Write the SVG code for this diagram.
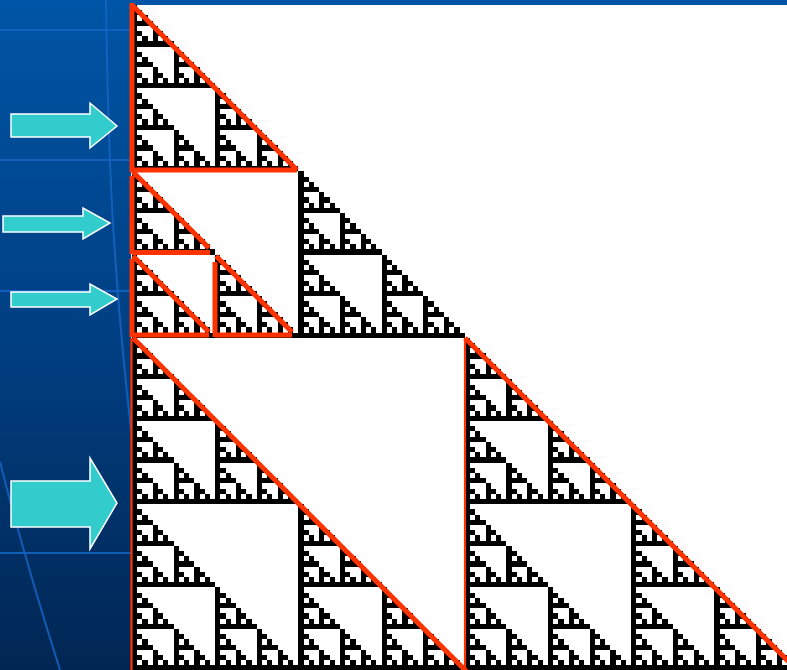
<svg xmlns="http://www.w3.org/2000/svg" xmlns:xlink="http://www.w3.org/1999/xlink" width="787" height="670" viewBox="0 0 787 670">
<style>
.grid{fill:none;stroke:#1465c4;stroke-width:2;opacity:0.85}
.arrow{fill:#33CCCC;stroke:#ffffff;stroke-width:1.5;stroke-linejoin:miter}
.red{fill:none;stroke:#FF3300;stroke-width:5;stroke-linecap:butt}
.redthin{fill:none;stroke:#FF3300;stroke-width:2.2}
</style>
<defs>
<linearGradient id="bg" x1="0" y1="0" x2="0" y2="1">
<stop offset="0" stop-color="#0055A6"/>
<stop offset="0.5" stop-color="#003F82"/>
<stop offset="1" stop-color="#012653"/>
</linearGradient>
<rect id="c0" width="1" height="1"/>
<g id="c1"><use href="#c0"/><use href="#c0" y="1"/><use href="#c0" x="1" y="1"/></g>
<g id="c2"><use href="#c1"/><use href="#c1" y="2"/><use href="#c1" x="2" y="2"/></g>
<g id="c3"><use href="#c2"/><use href="#c2" y="4"/><use href="#c2" x="4" y="4"/></g>
<g id="c4"><use href="#c3"/><use href="#c3" y="8"/><use href="#c3" x="8" y="8"/></g>
<g id="c5"><use href="#c4"/><use href="#c4" y="16"/><use href="#c4" x="16" y="16"/></g>
<g id="c6"><use href="#c5"/><use href="#c5" y="32"/><use href="#c5" x="32" y="32"/></g>
<g id="c7"><use href="#c6"/><use href="#c6" y="64"/><use href="#c6" x="64" y="64"/></g>
</defs>

<g id="background">
<rect width="787" height="670" fill="url(#bg)"/>
<path class="grid" d="M0,30 H131 M0,160 H131 M0,291 H131"/>
<path class="grid" d="M0,553 H131" opacity="0.5"/>
<path class="grid" d="M106,0 C108,150 112,260 131,430"/>
<path class="grid" d="M0,462 Q25,560 60,670" opacity="0.7"/>
</g>

<g id="sierpinski">
<rect x="131" y="5" width="656" height="665" fill="#ffffff"/>
<g transform="translate(132,5) scale(5.2)" fill="#000000" shape-rendering="crispEdges">
<use href="#c7"/>
</g>
</g>

<g id="outlines">
<g id="tri1">
<path class="red" d="M132,3 V172"/>
<path class="red" d="M130,170 H297"/>
<path class="red" d="M133,6 L297,170"/>
</g>
<g id="tri2">
<path class="red" d="M132,176 V254"/>
<path class="red" d="M133,172 L209,248"/>
<path class="red" d="M132,252.5 H210"/>
</g>
<g id="tri3">
<path class="red" d="M132,259 V337"/>
<path class="red" d="M133,256 L209,332"/>
<path class="red" d="M132,335 H209"/>
</g>
<g id="tri4">
<path class="red" d="M215,262 V337"/>
<path class="red" d="M216,256 L292,332"/>
<path class="red" d="M215,335 H292"/>
</g>
<g id="tri5">
<path class="redthin" d="M131.5,338 V670"/>
<path class="red" d="M133,338 L467,672"/>
</g>
<g id="tri6">
<path class="redthin" d="M465,338 V670"/>
<path class="red" d="M465,338 L797,670"/>
</g>
</g>

<g id="arrows">
<g id="arrow1"><polygon class="arrow" points="11,114 90,114 90,103 117,126 90,148 90,137 11,137"/></g>
<g id="arrow2"><polygon class="arrow" points="3,216 83,216 83,208 110,223 83,239 83,232 3,232"/></g>
<g id="arrow3"><polygon class="arrow" points="11,292 90,292 90,284 117,299 90,315 90,307 11,307"/></g>
<g id="arrow4"><polygon class="arrow" points="11,481 90,481 90,458 117,503 90,549 90,527 11,527"/></g>
</g>
</svg>
